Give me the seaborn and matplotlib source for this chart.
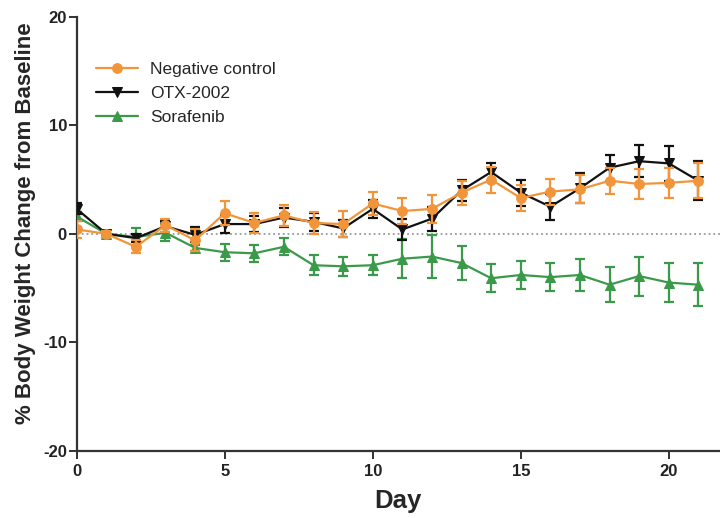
import numpy as np
import pandas as pd
import seaborn as sns
import matplotlib.pyplot as plt

days = list(range(22))

neg = [0.4, 0.0, -1.2, 0.8, -0.6, 1.9, 1.0, 1.7, 1.0, 0.9, 2.8, 2.1, 2.3, 3.8, 5.0, 3.3, 3.9, 4.1, 4.9, 4.6, 4.7, 4.9]
neg_err = [0.8, 0.3, 0.6, 0.6, 1.0, 1.1, 0.9, 1.0, 1.0, 1.2, 1.1, 1.2, 1.3, 1.1, 1.2, 1.2, 1.2, 1.3, 1.2, 1.4, 1.4, 1.6]

otx = [2.3, 0.0, -0.4, 0.7, -0.1, 0.9, 0.9, 1.5, 1.1, 0.5, 2.3, 0.4, 1.4, 4.0, 5.7, 3.8, 2.5, 4.2, 6.1, 6.7, 6.5, 4.9]
otx_err = [0.5, 0.2, 0.4, 0.5, 0.7, 0.8, 0.7, 0.9, 0.8, 0.8, 0.8, 1.0, 1.1, 1.0, 0.8, 1.2, 1.2, 1.4, 1.2, 1.5, 1.6, 1.8]

sora = [1.6, 0.0, -0.3, 0.1, -1.3, -1.7, -1.8, -1.2, -2.9, -3.0, -2.9, -2.3, -2.1, -2.7, -4.1, -3.8, -4.0, -3.8, -4.7, -3.9, -4.5, -4.7]
sora_err = [0.4, 0.2, 0.8, 0.8, 0.3, 0.8, 0.8, 0.8, 0.9, 0.9, 0.9, 1.8, 2.0, 1.6, 1.3, 1.3, 1.3, 1.5, 1.6, 1.8, 1.8, 2.0]

groups = ['Negative control', 'OTX-2002', 'Sorafenib']
colors = ['#F2953A', '#111111', '#3B9A4A']
markers = ['o', 'v', '^']
zorders = [5, 4, 3]

sns.set_style('ticks')
plt.rcParams['font.family'] = ['Liberation Sans', 'DejaVu Sans']
plt.rcParams['axes.unicode_minus'] = False

fig = plt.figure(figsize=(7.2, 5.18), dpi=100)
ax = fig.add_axes([0.1065, 0.1303, 0.8935, 0.8367])

ax.axhline(0, color='#999999', ls=':', lw=1.3, zorder=1)

series = [(neg, neg_err), (otx, otx_err), (sora, sora_err)]
for name, (vals, errs), c, m, z in zip(groups, series, colors, markers, zorders):
    df = pd.DataFrame({'day': days, 'val': vals})
    sns.lineplot(data=df, x='day', y='val', color=c, marker=m, markersize=7,
                 markeredgecolor=c, lw=1.6, label=name, ax=ax, zorder=z)
    ax.errorbar(days, vals, yerr=errs, fmt='none', ecolor=c, elinewidth=1.6,
                capsize=3.8, capthick=1.6, zorder=z)

ax.set_xlim(0, 21.73)
ax.set_ylim(-20, 20)
ax.set_xticks([0, 5, 10, 15, 20])
ax.set_yticks([-20, -10, 0, 10, 20])
for lab in ax.get_xticklabels() + ax.get_yticklabels():
    lab.set_fontweight('bold')
    lab.set_fontsize(12)
ax.tick_params(axis='y', length=6, width=1.3, pad=1, colors='#222222')
ax.tick_params(axis='x', length=6, width=1.3, pad=4, colors='#222222')
for s in ['left', 'bottom']:
    ax.spines[s].set_linewidth(1.6)
    ax.spines[s].set_color('#333333')
sns.despine(ax=ax)

ax.set_xlabel('Day', fontsize=18.5, fontweight='bold', labelpad=7)
ax.set_ylabel('% Body Weight Change from Baseline', fontsize=16, fontweight='bold', labelpad=5)
ax.yaxis.label.set_y(0.525)

ax.legend(loc='upper left', bbox_to_anchor=(96 / 720, 1 - 62 / 518), bbox_transform=fig.transFigure,
          frameon=False, fontsize=12.5, handlelength=2.4, handletextpad=0.7,
          labelspacing=0.5, borderpad=0, borderaxespad=0)

plt.savefig('out.png', dpi=100)
